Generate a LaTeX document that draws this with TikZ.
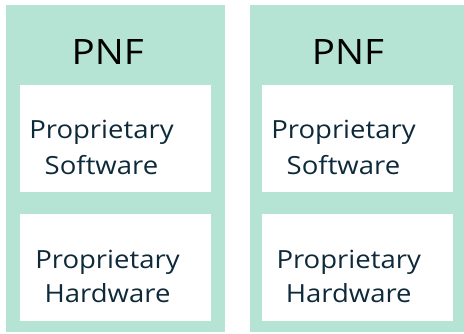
\documentclass[tikz,border=0pt]{standalone}
\usepackage{fontspec}
\setmainfont{Open Sans}
\newfontfamily\widesans[FakeStretch=1.1]{Open Sans}
\definecolor{colgreen}{HTML}{B5E3D4}
\definecolor{txtnavy}{HTML}{0E2A3A}
\begin{document}
\begin{tikzpicture}[x=1pt,y=-1pt,
  column/.style={fill=colgreen,draw=none},
  inner/.style={fill=white,draw=none},
  title/.style={anchor=base,inner sep=0pt,text=black,font=\widesans\fontsize{35}{40}\selectfont},
  boxtext/.style={anchor=base,inner sep=0pt,align=center,text=txtnavy,font=\widesans\fontsize{25}{#1}\selectfont},
]
\useasboundingbox (0,0) rectangle (464,333);
% columns
\path[column] (6,5) rectangle (225,332);
\path[column] (250,5) rectangle (464,332);
% inner boxes
\path[inner] (20,85) rectangle (211,192);
\path[inner] (20,214) rectangle (211,321);
\path[inner] (262,85) rectangle (453,192);
\path[inner] (262,214) rectangle (453,321);
% texts
\node[title] (t1) at (107.7,64) {PNF};
\node[title] (t2) at (348,64) {PNF};
\node[boxtext=36] (s1) at (101.5,174) {Proprietary\\Software};
\node[boxtext=34] (h1) at (107.5,302) {Proprietary\\Hardware};
\node[boxtext=36] (s2) at (343.5,174) {Proprietary\\Software};
\node[boxtext=34] (h2) at (348.7,302) {Proprietary\\Hardware};
\end{tikzpicture}
\end{document}
